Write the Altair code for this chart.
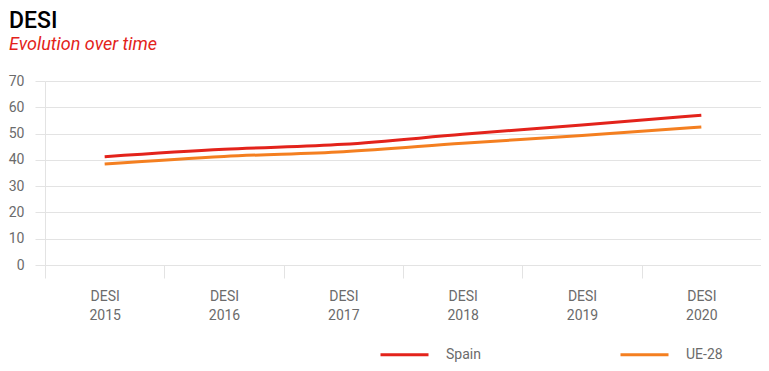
import altair as alt
import pandas as pd

editions = ["DESI 2015", "DESI 2016", "DESI 2017", "DESI 2018", "DESI 2019", "DESI 2020"]
spain = [41.2, 44.0, 45.9, 49.7, 53.3, 57.0]
ue28 = [38.4, 41.3, 43.1, 46.3, 49.3, 52.5]
series_names = ["Spain", "UE-28"]
series_colors = ["#e3231b", "#f47f20"]

rows = []
for name, vals in zip(series_names, [spain, ue28]):
    for e, v in zip(editions, vals):
        rows.append({"edition": e, "series": name, "value": v})
df = pd.DataFrame(rows)

FONT = "Roboto"
GRID = "#e3e3e3"
LABEL = "#6b6b6b"

chart = alt.Chart(df).mark_line(strokeWidth=3, interpolate="monotone").encode(
    x=alt.X("edition:N", sort=editions, title=None,
            scale=alt.Scale(paddingInner=0, paddingOuter=0),
            axis=alt.Axis(labelExpr="split(datum.label, ' ')", labelAngle=0,
                          tickBand="extent", tickSize=13, tickColor=GRID,
                          domainColor=GRID, labelColor=LABEL, labelFontSize=14,
                          labelFont=FONT, labelPadding=11, labelLineHeight=19,
                          grid=False)),
    y=alt.Y("value:Q", title=None,
            scale=alt.Scale(domain=[0, 70]),
            axis=alt.Axis(values=[0, 10, 20, 30, 40, 50, 60, 70], tickSize=10,
                          tickColor=GRID, domainColor=GRID, gridColor=GRID,
                          labelColor=LABEL, labelFontSize=14, labelFont=FONT,
                          labelPadding=11)),
    color=alt.Color("series:N", title=None,
                    scale=alt.Scale(domain=series_names, range=series_colors),
                    legend=alt.Legend(orient="none", legendX=334, legendY=248,
                                      direction="horizontal", columns=2,
                                      symbolType="stroke", symbolSize=2304,
                                      symbolStrokeWidth=3, labelOffset=16,
                                      columnPadding=133, labelFontSize=14,
                                      labelColor=LABEL, labelFont=FONT)),
).properties(
    width=716,
    height=184,
    autosize=alt.AutoSizeParams(type="none"),
    padding={"left": 37, "top": 73, "right": 0, "bottom": 98},
    title=alt.TitleParams(text="DESI", subtitle="Evolution over time",
                          anchor="start", frame="group", dx=-36,
                          font=FONT, fontSize=23, fontWeight=500, color="#000000",
                          subtitleFont=FONT, subtitleFontSize=18,
                          subtitleFontStyle="italic", subtitleColor="#e3231b",
                          subtitlePadding=3, offset=20),
).configure_view(stroke=None)

chart.save("out.html", embed_options={"renderer": "svg", "actions": False})
